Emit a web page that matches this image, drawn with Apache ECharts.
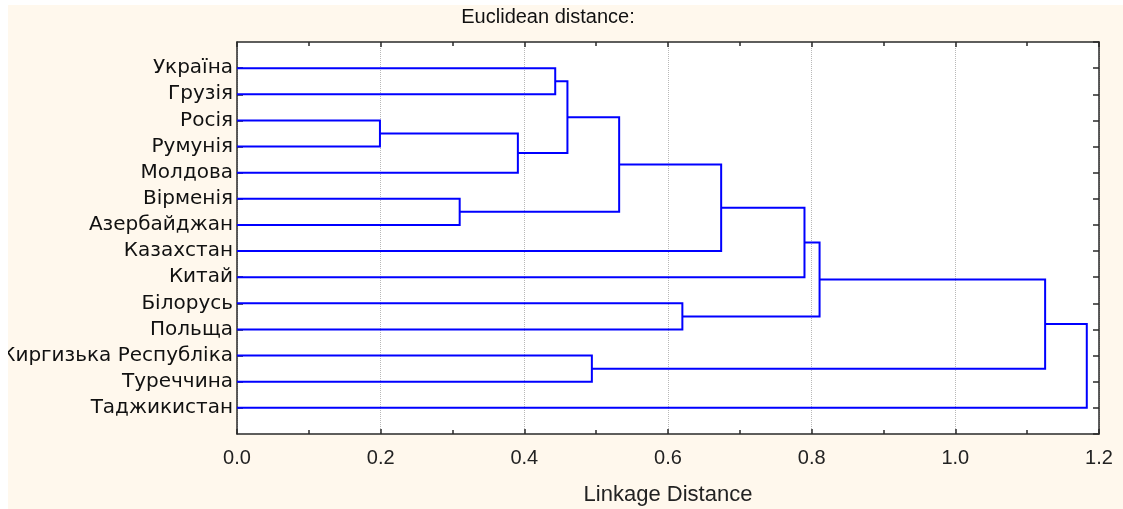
<!DOCTYPE html>
<html>
<head>
<meta charset="utf-8">
<script src="https://cdn.jsdelivr.net/npm/echarts@6/dist/echarts.min.js"></script>
<style>
html,body{margin:0;padding:0;background:#ffffff;}
#chart{width:1123px;height:509px;}
</style>
</head>
<body>
<div id="chart"></div>
<script>
// Leaves (top to bottom)
const leaves = ['Україна','Грузія','Росія','Румунія','Молдова','Вірменія','Азербайджан','Казахстан','Китай','Білорусь','Польща','Киргизька Республіка','Туреччина','Таджикистан'];
// Linkage: cluster ids 0..13 are leaves, 14+ are merges in order
const mergeA = [2, 5, 14, 0, 17, 11, 18, 9, 20, 22, 23, 24, 25];
const mergeB = [3, 6, 4, 1, 16, 12, 15, 10, 7, 8, 21, 19, 13];
const mergeHeight = [0.199, 0.310, 0.391, 0.443, 0.460, 0.494, 0.532, 0.620, 0.674, 0.790, 0.811, 1.125, 1.183];
const xTickLabels = ['0.0','0.2','0.4','0.6','0.8','1.0','1.2'];
const titleText = 'Euclidean distance:';
const xAxisTitle = 'Linkage Distance';

const pos = leaves.map((_, i) => i + 1);
const hgt = leaves.map(() => 0);
const segs = [];
mergeA.forEach((a, k) => {
  const b = mergeB[k], h = mergeHeight[k];
  segs.push({coords: [[hgt[a], pos[a]], [h, pos[a]], [h, pos[b]], [hgt[b], pos[b]]]});
  pos.push((pos[a] + pos[b]) / 2);
  hgt.push(h);
});

const FONT = '"Liberation Sans", Arial, sans-serif';
const chart = echarts.init(document.getElementById('chart'));
const axisLineStyle = {color: '#2a2a2a', width: 1.5};
const tickStyle = {color: '#2a2a2a', width: 1.5};
chart.setOption({
  animation: false,
  backgroundColor: 'transparent',
  grid: {left: 237, right: 24, top: 42, bottom: 75, containLabel: false, outerBoundsMode: 'none',
         show: true, backgroundColor: '#ffffff', borderWidth: 0},
  graphic: [
    {type: 'rect', z: -10, silent: true, shape: {x: 8, y: 5, width: 1115, height: 504}, style: {fill: '#fff8ed'}},
    {type: 'text', z: 10, x: 548, y: 7, style: {text: titleText, align: 'center', font: '20px ' + FONT, fill: '#111'}},
    {type: 'rect', z: 100, silent: true, shape: {x: 0, y: 0, width: 8, height: 509}, style: {fill: '#ffffff'}},
    {type: 'rect', z: 100, silent: true, shape: {x: 0, y: 0, width: 1123, height: 5}, style: {fill: '#ffffff'}}
  ],
  xAxis: [
    {type: 'value', position: 'bottom', min: 0, max: 1.2, interval: 0.2,
     name: xAxisTitle, nameLocation: 'middle', nameGap: 50,
     nameTextStyle: {fontSize: 22, fontFamily: FONT, color: '#222'},
     axisLine: {show: true, onZero: false, lineStyle: axisLineStyle},
     axisTick: {show: true, inside: true, length: 5, lineStyle: tickStyle},
     minorTick: {show: true, splitNumber: 2, length: 4, lineStyle: tickStyle},
     splitLine: {show: true, lineStyle: {color: '#b8b8b8', type: 'dotted', width: 1}},
     axisLabel: {margin: 14, color: '#222', fontSize: 20, fontFamily: FONT,
       formatter: v => xTickLabels[Math.round(v / 0.2)] || ''}},
    {type: 'value', position: 'top', min: 0, max: 1.2, interval: 0.2,
     axisLine: {show: true, onZero: false, lineStyle: axisLineStyle},
     axisTick: {show: true, inside: true, length: 5, lineStyle: tickStyle},
     minorTick: {show: true, splitNumber: 2, length: 4, lineStyle: tickStyle},
     splitLine: {show: false}, axisLabel: {show: false}}
  ],
  yAxis: [
    {type: 'value', position: 'left', min: 0, max: 15, interval: 1, inverse: true,
     axisLine: {show: true, onZero: false, lineStyle: axisLineStyle},
     axisTick: {show: true, inside: true, length: 6, lineStyle: tickStyle},
     splitLine: {show: false},
     axisLabel: {margin: 4, color: '#111', fontSize: 20, fontFamily: '"DejaVu Sans", ' + FONT,
       showMinLabel: false, showMaxLabel: false,
       formatter: v => leaves[v - 1] || ''}},
    {type: 'value', position: 'right', min: 0, max: 15, interval: 1, inverse: true,
     axisLine: {show: true, onZero: false, lineStyle: axisLineStyle},
     axisTick: {show: true, inside: true, length: 6, lineStyle: tickStyle},
     splitLine: {show: false}, axisLabel: {show: false}}
  ],
  series: [{
    type: 'lines', coordinateSystem: 'cartesian2d', xAxisIndex: 0, yAxisIndex: 0,
    polyline: true, silent: true,
    lineStyle: {color: '#0000ff', width: 2, opacity: 1},
    data: segs
  }]
});
</script>
</body>
</html>
